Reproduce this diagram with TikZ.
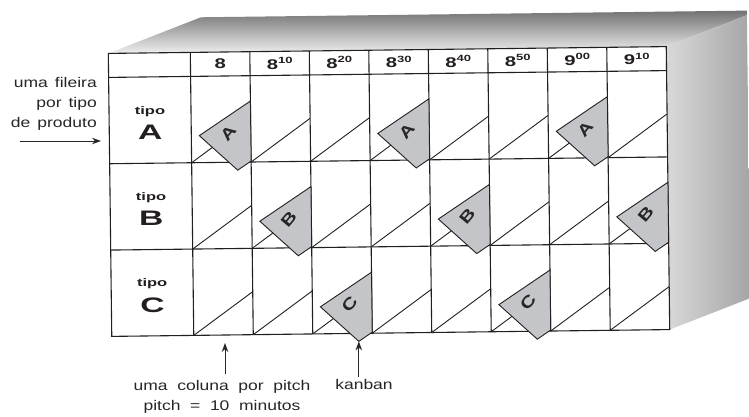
\documentclass[tikz,border=0pt]{standalone}
\usepackage{fontspec,graphicx}
\setmainfont{Liberation Sans}
\usetikzlibrary{arrows.meta,calc}
\definecolor{ink}{HTML}{231F20}
\definecolor{card}{HTML}{C4C5C9}
\definecolor{note}{HTML}{262626}
\newcommand{\annsize}{\fontsize{14}{20}\selectfont\spaceskip=.55em\relax}
\newcommand{\annsizetight}{\fontsize{14}{20}\selectfont\spaceskip=.4em\relax}
\tikzset{grid/.style={draw=ink,line width=1.1pt},
slot/.style={draw=ink,line width=.9pt},
kcard/.style={draw=ink,line width=.9pt,fill=card},
hdr/.style={font=\bfseries\fontsize{14}{14}\selectfont,text=ink,inner sep=0pt},
tipolab/.style={font=\bfseries\fontsize{11}{11}\selectfont,text=ink,inner sep=0pt},
rowlab/.style={font=\bfseries\fontsize{21}{21}\selectfont,text=ink,inner sep=0pt},
cardlab/.style={font=\bfseries\fontsize{16}{16}\selectfont,text=black!85,rotate=50,inner sep=0pt},
ann/.style={font=\annsize,text=note,inner sep=2pt},
pointer/.style={-{Stealth[length=9pt,width=6.5pt]},line width=1pt,note}}
\newcommand{\wide}[2][1.5]{\scalebox{#1}[1]{#2}}
\newcommand{\hsup}[1]{\raisebox{.42em}{\fontsize{9}{9}\selectfont #1}}
% one kanban card in the slot of column #1, row #2
\newcommand{\kanban}[3]{%
\begin{scope}[shift={(132.5+#1*59.5,74+#2*86.33)}]
\filldraw[kcard] (59.5,-61) -- (8,-27) -- (46,8) -- (59.5,-1) -- cycle;
\node[cardlab] (card-#1-#2) at (37,-29) {\wide[1.3]{#3}};
\coordinate (tip-#1-#2) at (46,8);
\end{scope}}

\begin{document}
\begin{tikzpicture}[x=1pt,y=-1pt]
\useasboundingbox (0,0) rectangle (749,417);
\begin{scope}[rotate around={0.7:(389,191)}]
% box faces
\begin{scope}
\clip (0,0) rectangle (749,417);
\shade[top color=black!55,bottom color=black!6] (110,50) -- (203,15) -- (761,15) -- (668,50) -- cycle;
\shade[left color=black!15,right color=black!38] (668,50) -- (761,15) -- (761,298) -- (668,333) -- cycle;
\end{scope}
\fill[white] (110,50) rectangle (668,333);
% slots
\foreach \c in {1,...,8}
  \foreach \r in {1,2,3}
    \draw[slot] (132.5+\c*59.5,74+\r*86.33) -- ++(59.5,-43);
% grid
\foreach \c in {0,...,7}
  \draw[grid] (192+\c*59.5,50) -- (192+\c*59.5,333);
\foreach \y in {74,160.33,246.67}
  \draw[grid] (110,\y) -- (668,\y);
\draw[grid] (110,50) rectangle (668,333);
% header
\foreach \t [count=\i] in {8,8\hsup{10},8\hsup{20},8\hsup{30},8\hsup{40},8\hsup{50},9\hsup{00},9\hsup{10}}
  \node[hdr] (h\i) at (162.25+\i*59.5,62) {\wide[1.45]{\t}};
\foreach \l [count=\r] in {A,B,C}{
  \node[tipolab] (tipo\l) at (151,22+\r*86.33) {\wide{tipo}};
  \node[rowlab] (row\l) at (151,43+\r*86.33) {\wide[1.6]{\l}};}
% cards
\kanban{1}{1}{A}
\kanban{4}{1}{A}
\kanban{7}{1}{A}
\kanban{2}{2}{B}
\kanban{5}{2}{B}
\kanban{8}{2}{B}
\kanban{3}{3}{C}
\kanban{6}{3}{C}
\end{scope}
% notes
\node[ann,font=\annsizetight,anchor=east] (fileira) at (99,104) {\wide[1.25]{\begin{tabular}{@{}r@{}}uma fileira\\por tipo\\de produto\end{tabular}}};
\coordinate (fileira-tail) at (20,141);
\coordinate (fileira-tip) at (101,141);
\draw[pointer] (fileira-tail) -- (fileira-tip);
\node[ann] (coluna) at (222,396) {\wide[1.25]{\begin{tabular}{@{}c@{}}uma coluna por pitch\\pitch = 10 minutos\end{tabular}}};
\coordinate (coluna-tip) at (225,343);
\draw[pointer] (coluna-tip |- coluna.north) -- (coluna-tip);
\node[ann] (kanban) at (364,384) {\wide[1.25]{kanban}};
\draw[pointer] (kanban.north -| tip-3-3) -- (tip-3-3);
\end{tikzpicture}
\end{document}
